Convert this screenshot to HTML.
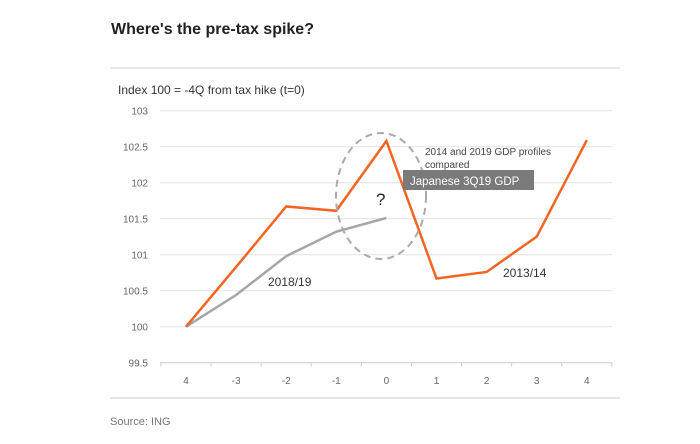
<!DOCTYPE html>
<html><head><meta charset="utf-8"><style>
body{margin:0;width:700px;height:444px;background:#fff;font-family:"Liberation Sans",sans-serif;overflow:hidden;position:relative}
</style></head><body>
<div style="position:absolute;left:111px;top:21px;font-size:16px;font-weight:bold;color:#222">Where's the pre-tax spike?</div>
<svg width="700" height="444" style="position:absolute;left:0;top:0">
<line x1="110" y1="68" x2="620" y2="68" stroke="#ddd" stroke-width="1.5"/>
<line x1="110" y1="398" x2="620" y2="398" stroke="#ddd" stroke-width="1.5"/>
<text x="118" y="94" font-size="12" fill="#333">Index 100 = -4Q from tax hike (t=0)</text>
<g id="grid"></g><g id="series"></g>
<ellipse cx="381" cy="196" rx="45" ry="63" fill="none" stroke="#aaa" stroke-width="2" stroke-dasharray="7,5"/>
<text x="376" y="205" font-size="17" fill="#222">?</text>
<text font-size="10" fill="#444"><tspan x="425" y="155">2014 and 2019 GDP profiles</tspan><tspan x="425" y="168">compared</tspan></text>
<rect x="403" y="170" width="131" height="20" fill="#7a7a7a"/>
<text x="410" y="185" font-size="11.5" fill="#fff">Japanese 3Q19 GDP</text>
<text x="268" y="286" font-size="12" fill="#333">2018/19</text>
<text x="503" y="277" font-size="12" fill="#333">2013/14</text>
<text x="110" y="425" font-size="11" fill="#777">Source: ING</text>
</svg>
<script>
const categories=["4","-3","-2","-1","0","1","2","3","4"];
const series2013=[100,100.83,101.67,101.61,102.58,100.67,100.76,101.25,102.59];
const series2018=[100,100.44,100.98,101.32,101.51];
const yTicks=[99.5,100,100.5,101,101.5,102,102.5,103];
const NS="http://www.w3.org/2000/svg";
const X=i=>186+i*50.1, Y=v=>326.7-(v-100)*72;
const grid=document.getElementById('grid'), ser=document.getElementById('series');
function mk(tag,attrs,parent){const e=document.createElementNS(NS,tag);for(const k in attrs)e.setAttribute(k,attrs[k]);parent.appendChild(e);return e;}
yTicks.forEach(v=>{
 const l=mk('line',{x1:160,x2:612,y1:Y(v),y2:Y(v),stroke:v===99.5?'#ccc':'#e2e2e2','stroke-width':1},grid);
 
 
 const t=mk('text',{x:148,y:Y(v)+4,'text-anchor':'end','font-size':10,fill:'#666'},grid);t.textContent=String(v);
 
 
});
for(let i=0;i<=categories.length;i++){
 const tk=mk('line',{x1:X(i-0.5),x2:X(i-0.5),y1:Y(99.5),y2:Y(99.5)+4,stroke:'#ccc'},grid);
 
 
}
categories.forEach((c,i)=>{
 const t=mk('text',{x:X(i),y:384,'text-anchor':'middle','font-size':10,fill:'#666'},grid);t.textContent=c;
 
 
});
const p1=mk('polyline',{points:series2018.map((v,i)=>X(i)+','+Y(v)).join(' '),fill:'none',stroke:'#a6a6a6','stroke-width':2.5},ser);


const p2=mk('polyline',{points:series2013.map((v,i)=>X(i)+','+Y(v)).join(' '),fill:'none',stroke:'#f26522','stroke-width':2.5,'stroke-linejoin':'miter'},ser);


</script>
</body></html>
